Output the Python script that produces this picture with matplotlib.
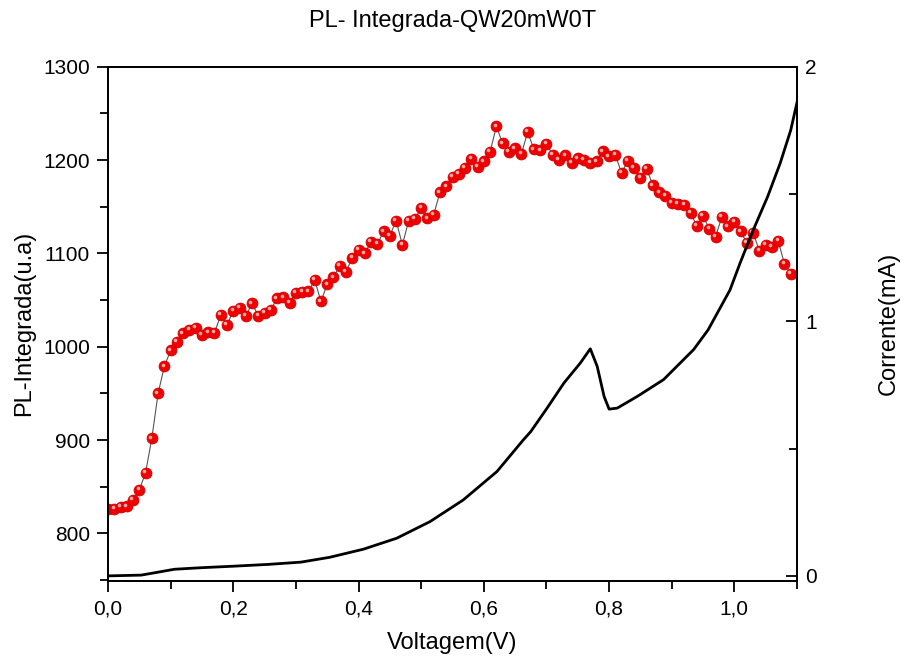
# PL integrada vs voltagem, with corrente on a second axis

import numpy as np
import matplotlib
matplotlib.use("Agg")
import matplotlib.pyplot as plt
from matplotlib.ticker import MultipleLocator, FuncFormatter
from matplotlib.transforms import ScaledTranslation

plt.rcParams['font.family'] = ['Liberation Sans', 'DejaVu Sans']

# PL data, one point every 0.01 V
volt_pl = np.arange(110) * 0.01
pl = [826, 826.5, 828.5, 829, 836, 846.5, 865, 902, 950, 979,
      996, 1005, 1014.5, 1018, 1020.5, 1012.5, 1015.5, 1015, 1034, 1023.5,
      1038.5, 1041.5, 1033, 1046.5, 1033, 1036.5, 1039.5, 1052, 1053, 1047,
      1058, 1058.5, 1059.5, 1071.5, 1048.5, 1067, 1074.5, 1087, 1080.5, 1095,
      1104, 1100, 1112.5, 1110, 1123.5, 1119, 1135, 1109, 1135, 1137,
      1148.5, 1137.5, 1141.5, 1165.5, 1172, 1182, 1185, 1192, 1201, 1192.5,
      1198.5, 1208.5, 1236, 1218, 1208.5, 1212.5, 1206.5, 1230, 1211.5, 1210.5,
      1217.5, 1205.5, 1200, 1205, 1197, 1202, 1200.5, 1197, 1198.5, 1209.5,
      1204, 1205.5, 1186, 1199.5, 1192, 1181, 1190.5, 1173, 1165.5, 1161.5,
      1154, 1153, 1152, 1143.5, 1129.5, 1140, 1126.5, 1118, 1139, 1129,
      1133.5, 1123.5, 1111, 1122, 1102.5, 1109, 1107, 1113.5, 1088.5, 1078]

# current curve (mA)
volt_i = [0.0, 0.053, 0.074, 0.106, 0.148, 0.2, 0.255, 0.308, 0.354, 0.408,
          0.461, 0.514, 0.567, 0.621, 0.663, 0.675, 0.701, 0.728,
          0.754, 0.77, 0.781, 0.792, 0.8, 0.813, 0.845, 0.887, 0.935, 0.958,
          0.993, 1.009, 1.03, 1.053, 1.073, 1.09, 1.1]
corrente = [0.0, 0.003, 0.012, 0.026, 0.032, 0.038, 0.045, 0.054, 0.073, 0.105,
            0.148, 0.213, 0.298, 0.41, 0.534, 0.567, 0.659, 0.758,
            0.836, 0.892, 0.823, 0.705, 0.655, 0.659, 0.705, 0.771, 0.889, 0.966,
            1.123, 1.228, 1.358, 1.489, 1.62, 1.751, 1.86]

fig = plt.figure(figsize=(9.06, 6.62), dpi=100)
ax1 = fig.add_axes([0.1192, 0.1224, 0.8797 - 0.1192, 0.8992 - 0.1224])
ax2 = ax1.twinx()

# PL: thin grey line and red "spheres"
ax1.plot(volt_pl, pl, color='#555555', lw=0.8, zorder=2)
ax1.plot(volt_pl, pl, ls='none', marker='o', ms=7.8, mfc='#f00000',
         mec='#d00000', mew=0.6, zorder=3)
shift = ScaledTranslation(-1.2 / 72, 1.2 / 72, fig.dpi_scale_trans)
ax1.plot(volt_pl, pl, ls='none', marker='o', ms=2.6, mfc='#ffa8a8',
         mec='none', zorder=4, transform=ax1.transData + shift)

ax1.set_xlim(0, 1.1)
ax1.set_ylim(749, 1300)
ax1.set_xlabel('Voltagem(V)', fontsize=17, labelpad=10)
ax1.set_ylabel('PL-Integrada(u.a)', fontsize=17, labelpad=6)
ax1.xaxis.set_major_locator(MultipleLocator(0.2))
ax1.xaxis.set_minor_locator(MultipleLocator(0.1))
ax1.yaxis.set_major_locator(MultipleLocator(100))
ax1.yaxis.set_minor_locator(MultipleLocator(50))
ax1.xaxis.set_major_formatter(FuncFormatter(lambda v, p: ('%.1f' % v).replace('.', ',')))
ax1.tick_params(which='both', direction='out', width=1.3, labelsize=15, top=False)
ax1.tick_params(which='major', length=8, pad=5)
ax1.tick_params(which='minor', length=6)

# corrente
ax2.plot(volt_i, corrente, color='black', lw=2, zorder=2)
ax2.set_ylim(-0.02, 2)
ax2.yaxis.set_major_locator(MultipleLocator(1))
ax2.yaxis.set_minor_locator(MultipleLocator(0.5))
ax2.set_ylabel('Corrente(mA)', fontsize=17, labelpad=44)
ax2.tick_params(which='both', direction='in', width=1.3, labelsize=15)
ax2.tick_params(which='major', length=8, pad=6)
ax2.tick_params(which='minor', length=6)

for ax in (ax1, ax2):
    for s in ax.spines.values():
        s.set_linewidth(1.3)

fig.suptitle('PL- Integrada-QW20mW0T', fontsize=17, y=0.985)

fig.savefig('out.png', dpi=100)
